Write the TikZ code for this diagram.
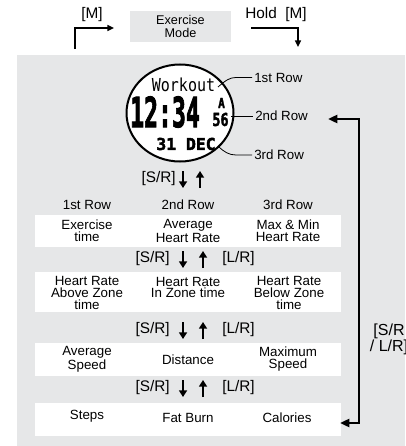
\documentclass[tikz,border=0pt]{standalone}
\usepackage{fontspec}
\setmainfont{Liberation Sans}
\newfontfamily\lcdfont{DejaVu Sans Mono}
\newfontfamily\lcdheavy[FakeBold=2.5]{DejaVu Sans Mono Bold}
\usetikzlibrary{arrows.meta}
\definecolor{panelgray}{RGB}{230,231,232}

\begin{document}
\begin{tikzpicture}[x=0.75pt, y=-0.75pt,
    txt/.style={font=\fontsize{10}{8.7}\selectfont, align=center, inner sep=0pt},
    key/.style={font=\fontsize{11.5}{11}\selectfont, inner sep=0pt},
    band/.style={fill=white, minimum width=229.5pt, inner sep=0pt},
    flow/.style={line width=1.1pt, -{Triangle[length=5pt,width=4.5pt]}},
    press/.style={line width=1.9pt, -{Triangle[length=5pt,width=6pt]}},
    loopline/.style={line width=2pt, {Triangle[length=7pt,width=6pt]}-{Triangle[length=7pt,width=6pt]}},
    leader/.style={line width=0.6pt}]

        % Marco
        \useasboundingbox (0,0) rectangle (405,446);
        \clip (0,0) rectangle (405,446);

        % Modo y teclas [M]
        \node[txt, font=\fontsize{9.5}{9.5}\selectfont, fill=panelgray, minimum width=75.75pt, minimum height=23.25pt] (mode) at (180.5,26.5) {Exercise\\Mode};
        \node[key] (mkey) at (92,15) {[M]};
        \node[key] (holdkey) at (276,15) {Hold\ \ [M]};
        \coordinate (mstart) at (75,49);
        \coordinate (mtip) at (114,28);
        \draw[flow] (mstart) |- (mtip);
        \coordinate (hstart) at (251,28);
        \coordinate (htip) at (298,47);
        \draw[flow] (hstart) -| (htip);

        % Panel gris
        \fill[panelgray] (17,55) rectangle (405,446);

        % Reloj
        \draw[line width=1.5pt, fill=white] (180,113) ellipse [x radius=53.5, y radius=48.5];
        \node[inner sep=0pt, font=\lcdfont\fontsize{13.4}{14}\selectfont, xscale=0.84] (workout) at (183.5,84.5) {Workout};
        \node[inner sep=0pt, font=\lcdheavy\fontsize{31}{31}\selectfont, xscale=0.56] (clock) at (165,112) {12:34};
        \node[inner sep=0pt, font=\lcdheavy\fontsize{10.3}{11}\selectfont, xscale=0.8] (ampm) at (221.5,103) {A};
        \node[inner sep=0pt, font=\lcdheavy\fontsize{13.4}{14}\selectfont, xscale=0.75] (secs) at (220.5,119.5) {56};
        \node[inner sep=0pt, font=\lcdheavy\fontsize{12.3}{13}\selectfont] (date) at (186,144) {31 DEC};

        % Filas del reloj
        \node[txt, anchor=west, inner xsep=1.5pt] (row1) at (252,77.5) {1st Row};
        \node[txt, anchor=west, inner xsep=1.5pt] (row2) at (253,116) {2nd Row};
        \node[txt, anchor=west, inner xsep=1.5pt] (row3) at (252,155) {3rd Row};
        \coordinate (w1) at (218,87);
        \coordinate (w2) at (231,116);
        \coordinate (w3) at (218,146);
        \draw[leader] (w1) .. controls (226,80) and (230,77.5) .. (236,77.5) -- (row1.west);
        \draw[leader] (w2) -- (row2.west);
        \draw[leader] (w3) .. controls (224,152) and (229,155) .. (236,155) -- (row3.west);

        % [S/R] bajo el reloj
        \node[key, anchor=east] (srwatch) at (176,179) {[S/R]};
        \draw[press] (183,171) -- (183,188);
        \draw[press] (200,188) -- (200,171);

        % Cabeceras
        \node[txt] (head1) at (87,205) {1st Row};
        \node[txt] (head2) at (188,205) {2nd Row};
        \node[txt] (head3) at (288,205) {3rd Row};

        % Bandas blancas
        \node[band, minimum height=24pt] (band1) at (188,231) {};
        \node[band, minimum height=30pt] (band2) at (188,292) {};
        \node[band, minimum height=24.75pt] (band3) at (188,359.5) {};
        \node[band, minimum height=24.75pt] (band4) at (188,419.5) {};

        % Contenido de las bandas
        \node[txt] (exertime) at (87,231) {Exercise\\time};
        \node[txt] (avghr) at (188,231) {Average\\Heart Rate};
        \node[txt] (maxmin) at (288,231) {Max \& Min\\Heart Rate};
        \node[txt] (above) at (87,293) {Heart Rate\\Above Zone\\time};
        \node[txt] (inzone) at (188,287.5) {Heart Rate\\In Zone time};
        \node[txt] (below) at (289,293) {Heart Rate\\Below Zone\\time};
        \node[txt] (avgspeed) at (87,359) {Average\\Speed};
        \node[txt] (dist) at (188,359.5) {Distance};
        \node[txt] (maxspeed) at (288,359) {Maximum\\Speed};
        \node[txt] (steps) at (87,416) {Steps};
        \node[txt] (fatburn) at (188,418) {Fat Burn};
        \node[txt] (cal) at (287,418) {Calories};

        % Teclas entre bandas
        \foreach \yy in {259,330,388} {
            \node[key, anchor=east] (sr\yy) at (170,\yy) {[S/R]};
            \node[key, anchor=west] (lr\yy) at (222,\yy) {[L/R]};
            \draw[press] (183,\yy-8) -- (183,\yy+9);
            \draw[press] (203,\yy+9) -- (203,\yy-8);
        }

        % Lazo de vuelta
        \coordinate (looptop) at (328,119);
        \coordinate (loopbot) at (340,423);
        \draw[loopline] (looptop) -| (359,270) |- (loopbot);
        \node[key, font=\fontsize{12}{9.75}\selectfont, align=center] (loopkey) at (389,339.5) {[S/R\\/ L/R]};
    \end{tikzpicture}
\end{document}
